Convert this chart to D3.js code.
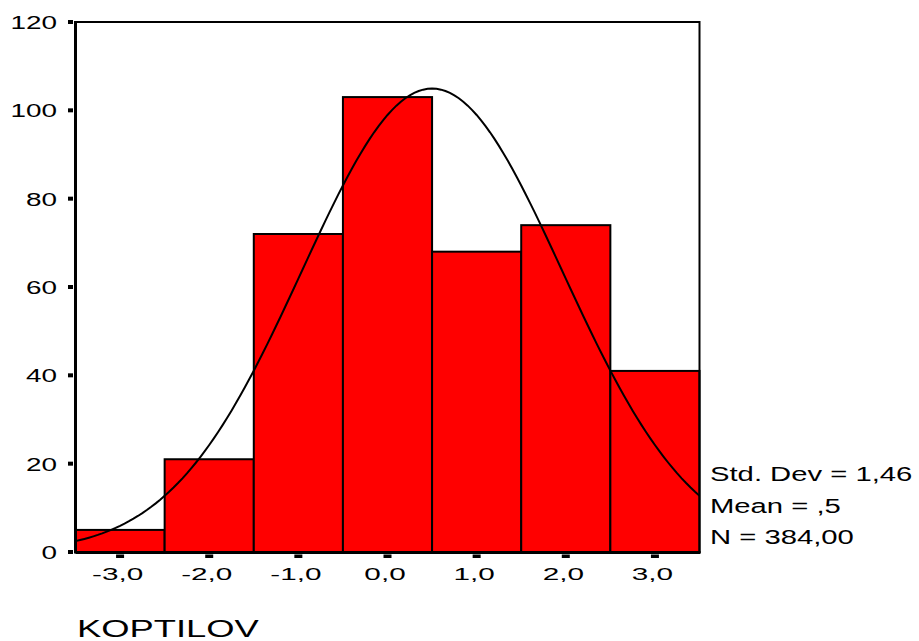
<!DOCTYPE html>
<html>
<head>
<meta charset="utf-8">
<script src="https://cdn.jsdelivr.net/npm/d3@7"></script>
<style>
  body { margin: 0; background: #fff; }
  text { font-family: "Liberation Sans", Arial, sans-serif; fill: #000; }
</style>
</head>
<body>
<script>
// histogram of KOPTILOV with fitted normal curve
var binCenters = [-3, -2, -1, 0, 1, 2, 3],
    counts = [5, 21, 72, 103, 68, 74, 41];

var yTicks = [0, 20, 40, 60, 80, 100, 120],
    xTickLabels = ["-3,0", "-2,0", "-1,0", "0,0", "1,0", "2,0", "3,0"];

// stats shown at the right, also used for the normal curve
var statLabels = ["Std. Dev = 1,46", "Mean = ,5", "N = 384,00"],
    stdDev = 1.46,
    mean = 0.5,
    n = 384,
    binWidth = 1;

var width = 919, height = 641;

var x = d3.scaleLinear().domain([-3.5, 3.5]).range([75.5, 699.5]);
var y = d3.scaleLinear().domain([0, 120]).range([552, 22]);

var svg = d3.select("body").append("svg")
  .attr("width", width)
  .attr("height", height);

// bars
svg.selectAll("rect.bar")
  .data(binCenters)
  .enter().append("rect")
  .attr("class", "bar")
  .attr("x", function(d) { return x(d - binWidth / 2); })
  .attr("width", function(d) { return x(d + binWidth / 2) - x(d - binWidth / 2); })
  .attr("y", function(d, i) { return y(counts[i]); })
  .attr("height", function(d, i) { return y(0) - y(counts[i]); })
  .attr("fill", "#ff0000")
  .attr("stroke", "#000")
  .attr("stroke-width", 2);

// normal curve scaled to counts
var curvePts = d3.range(-3.5, 3.5001, 0.05).map(function(v) {
  var z = (v - mean) / stdDev;
  return [v, n * binWidth * Math.exp(-0.5 * z * z) / (stdDev * Math.sqrt(2 * Math.PI))];
});

svg.append("path")
  .datum(curvePts)
  .attr("d", d3.line().x(function(d) { return x(d[0]); }).y(function(d) { return y(d[1]); }))
  .attr("fill", "none")
  .attr("stroke", "#000")
  .attr("stroke-width", 2);

// frame
svg.append("rect")
  .attr("x", x(-3.5)).attr("y", y(120))
  .attr("width", x(3.5) - x(-3.5)).attr("height", y(0) - y(120))
  .attr("fill", "none").attr("stroke", "#000").attr("stroke-width", 2);
svg.append("line")
  .attr("x1", x(-3.5)).attr("x2", x(-3.5)).attr("y1", y(120) - 1).attr("y2", y(0) + 1.5)
  .attr("stroke", "#000").attr("stroke-width", 3);
svg.append("line")
  .attr("x1", x(-3.5)).attr("x2", x(3.5) + 1).attr("y1", y(0) + 0.5).attr("y2", y(0) + 0.5)
  .attr("stroke", "#000").attr("stroke-width", 3);

// y ticks and labels
svg.selectAll("rect.ytick")
  .data(yTicks)
  .enter().append("rect")
  .attr("class", "ytick")
  .attr("x", 68).attr("width", 5)
  .attr("y", function(d) { return y(d) - 2; }).attr("height", 4)
  .attr("fill", "#000");

svg.selectAll("g.ylab")
  .data(yTicks)
  .enter().append("g")
  .attr("class", "ylab")
  .attr("transform", function(d) { return "translate(57," + (y(d) + 7) + ") scale(1.55,1)"; })
  .append("text")
  .attr("text-anchor", "end")
  .style("font-size", "18px")
  .text(function(d) { return d; });

// x ticks and labels
svg.selectAll("rect.xtick")
  .data(binCenters)
  .enter().append("rect")
  .attr("class", "xtick")
  .attr("x", function(d) { return x(d) - 4; }).attr("width", 8)
  .attr("y", 554.5).attr("height", 3.5)
  .attr("fill", "#000");

svg.selectAll("g.xlab")
  .data(binCenters)
  .enter().append("g")
  .attr("class", "xlab")
  .attr("transform", function(d) { return "translate(" + (x(d) - 2.5) + ",580) scale(1.8,1)"; })
  .append("text")
  .attr("text-anchor", "middle")
  .style("font-size", "16.5px")
  .text(function(d, i) { return xTickLabels[i]; });

// stats
var statY = [481, 513, 544];
svg.selectAll("g.stat")
  .data(statLabels)
  .enter().append("g")
  .attr("class", "stat")
  .attr("transform", function(d, i) { return "translate(710," + statY[i] + ") scale(1.5,1)"; })
  .append("text")
  .style("font-size", "19.5px")
  .text(function(d) { return d; });

// axis title
svg.append("g")
  .attr("transform", "translate(77,637) scale(1.58,1)")
  .append("text")
  .style("font-size", "23px")
  .text("KOPTILOV");
</script>
</body>
</html>
